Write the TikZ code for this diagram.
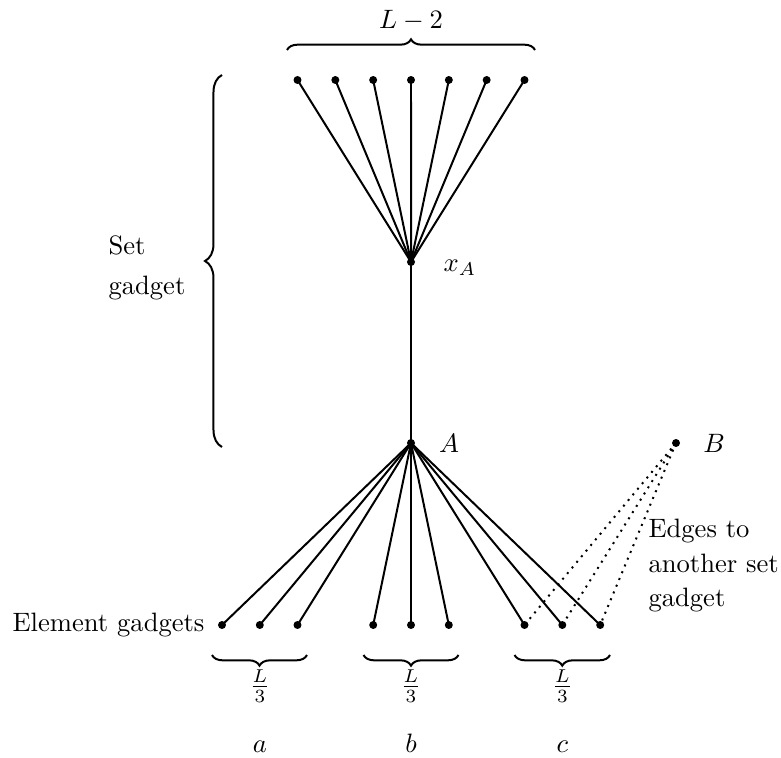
\documentclass[tikz,border=0pt]{standalone}
\usetikzlibrary{decorations.pathreplacing}
\begin{document}
\begin{tikzpicture}[x=0.376pt,y=-0.376pt,
  vdot/.style={circle,fill=black,inner sep=0pt,minimum size=3pt},
  edge/.style={line width=0.75pt},
  dotedge/.style={line width=0.75pt,dotted},
  lbl/.style={inner sep=0pt},
  bracestyle/.style={line width=0.75pt,decorate,decoration={brace,amplitude=#1}}]
\useasboundingbox (0,0) rectangle (781,757);
% top vertices
\foreach \i in {1,...,7}{
  \node[vdot] (t\i) at ({297.5+37.83*(\i-1)},80) {};
}
\node[vdot] (xa) at (411,262) {};
\node[vdot] (A) at (411,443) {};
\node[vdot] (B) at (676,443) {};
% bottom vertices
\node[vdot] (a1) at (222,625) {};
\node[vdot] (a2) at (259.8,625) {};
\node[vdot] (a3) at (297.5,625) {};
\node[vdot] (b1) at (373.2,625) {};
\node[vdot] (b2) at (411,625) {};
\node[vdot] (b3) at (448.8,625) {};
\node[vdot] (c1) at (524.5,625) {};
\node[vdot] (c2) at (562.3,625) {};
\node[vdot] (c3) at (600.2,625) {};
% edges
\foreach \i in {1,...,7}{ \draw[edge] (t\i.center) -- (xa.center); }
\draw[edge] (xa.center) -- (A.center);
\foreach \v in {a1,a2,a3,b1,b2,b3,c1,c2,c3}{ \draw[edge] (A.center) -- (\v.center); }
\foreach \v in {c1,c2,c3}{ \draw[dotedge] (B.center) -- (\v.center); }
% labels
\node[lbl] (lxa) at (460,268) {$x_A$};
\node[lbl] (lA) at (449,443) {$A$};
\node[lbl] (lB) at (714,443) {$B$};
\node[lbl,anchor=east] (lel) at (205,625) {Element gadgets};
\node[lbl,anchor=north west,align=left] (lset) at (108,235) {Set\\[3pt]gadget};
\node[lbl,anchor=north west,align=left] (ledge) at (648,519) {Edges to\\[0.8pt]another set\\[0.8pt]gadget};
% braces
\draw[bracestyle=4pt] (287,50) -- (535,50);
\node[lbl,anchor=base] (lL2) at (411,29) {$L-2$};
\draw[bracestyle=6.4pt] (222,447) -- (222,75);
\draw[bracestyle=4pt] (307,655) -- (212,655);
\draw[bracestyle=4pt] (458.5,655) -- (363.5,655);
\draw[bracestyle=4pt] (610,655) -- (514.5,655);
\node[lbl] (fa) at (259.8,686) {$\frac{L}{3}$};
\node[lbl] (fb) at (411,686) {$\frac{L}{3}$};
\node[lbl] (fc) at (562.3,686) {$\frac{L}{3}$};
\node[lbl,anchor=base] (na) at (259.8,752) {$a$};
\node[lbl,anchor=base] (nb) at (411,752) {$b$};
\node[lbl,anchor=base] (nc) at (562.3,752) {$c$};
\end{tikzpicture}
\end{document}
